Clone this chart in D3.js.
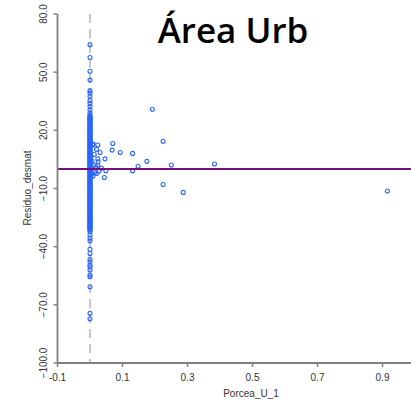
<!DOCTYPE html>
<html>
<head>
<meta charset="utf-8">
<script src="https://cdn.jsdelivr.net/npm/d3@7"></script>
<style>
  html, body { margin: 0; padding: 0; background: #fff; }
  svg { display: block; }
  .tick-lbl { font-family: Arial, "Liberation Sans", sans-serif; font-size: 10px; fill: #333; }
</style>
</head>
<body>
<div class="chart"></div>
<script>
// residuals of units with Porcea_U_1 = 0 (the dense column)
const colPorcea = 0;
const colResiduo = [64.2, 57.6, 50.5, 45.9, 40.5, 39.3, 37.5, 35.3, 33.9, 32.3, 30.4, 28.9,
  27.6, 26.9, 26.1, 25.3, 24.4, 23.7, 22.8, 22.1, 21.2, 20.5, 19.7, 19.0, 18.1, 17.4,
  16.6, 15.8, 15.1, 14.3, 13.5, 12.8, 12.0, 11.2, 10.5, 9.7, 9.0, 8.2, 7.4, 6.7, 5.9,
  5.2, 4.4, 3.6, 2.9, 2.1, 1.3, 0.6, -0.2, -0.9, -1.7, -2.5, -3.2, -4.0, -4.8, -5.5,
  -6.3, -7.0, -7.8, -8.6, -9.3, -10.1, -10.8, -11.6, -12.4, -13.1, -13.9, -14.7, -15.4,
  -16.2, -16.9, -17.7, -18.5, -19.2, -20.0, -20.8, -21.5, -22.3, -23.0, -23.8, -24.6,
  -25.3, -26.1, -26.8, -27.6, -28.4, -29.1, -29.9, -30.6, -31.4,
  -32.3, -34.0, -35.6, -37.0, -41.4, -43.5, -46.5, -47.8, -49.5, -50.4, -52.0, -54.6,
  -55.5, -60.7, -74.4, -77.2,
  // more residuals inside the packed band
  27.2, 26.5, 25.7, 24.8, 24.1, 23.3, 22.5, 21.6, 20.9, 20.1, 19.3, 18.6, 17.8, 17.0,
  16.2, 15.5, 14.7, 13.9, 13.2, 12.4, 11.6, 10.9, 10.1, 9.4, 8.6, 7.8, 7.1, 6.3, 5.6,
  4.8, 4.0, 3.3, 2.5, 1.7, 1.0, 0.2, -0.5, -1.3, -2.1, -2.8, -3.6, -4.4, -5.1, -5.9,
  -6.7, -7.4, -8.2, -8.9, -9.7, -10.5, -11.2, -12.0, -12.7, -13.5, -14.3, -15.0, -15.8,
  -16.6, -17.3, -18.1, -18.9, -19.6, -20.4, -21.1, -21.9, -22.7, -23.4, -24.2, -25.0,
  -25.7, -26.5, -27.2, -28.0, -28.8, -29.5, -30.3, -31.0];

// units with Porcea_U_1 > 0
const scatPorcea = [0.008, 0.024, 0.020, 0.031, 0.010, 0.003, 0.006, 0.012, 0.018, 0.024,
  0.015, 0.020, 0.028, 0.035, 0.009, 0.005, 0.046, 0.024, 0.049, 0.044, 0.070, 0.068,
  0.093, 0.131, 0.131, 0.148, 0.175, 0.192, 0.225, 0.250, 0.383, 0.225, 0.287, 0.915,
  0.025, 0.013];
const scatResiduo = [12.4, 12.4, 10.2, 8.6, 12.9, 6.5, 4.2, 2.0, 1.2, 2.0,
  -1.5, -2.2, -1.0, 0.5, -3.5, -2.5, 5.3, 5.3, -0.9, -4.3, 13.2, 9.8,
  8.6, 8.1, -0.9, 1.5, 4.0, 30.9, 14.4, 2.1, 2.6, -7.9, -12.0, -11.3,
  3.8, 7.5];

const xTicks = [-0.1, 0.1, 0.3, 0.5, 0.7, 0.9];
const yTicks = [80, 50, 20, -10, -40, -70, -100];
const refY = 0;   // horizontal reference line
const refX = 0;   // dashed vertical line

const W = 411, H = 403;
const svg = d3.select('div.chart').append('svg')
  .attr('width', W)
  .attr('height', H);

const x = d3.scaleLinear().domain([-0.1, 1.0]).range([57.5, 415]);
const y = d3.scaleLinear().domain([-100, 80]).range([363, 14]);

// title
svg.append('text')
  .attr('x', 233).attr('y', 43)
  .attr('text-anchor', 'middle')
  .style('font-family', '"Open Sans", sans-serif')
  .style('font-weight', 600)
  .style('font-size', '35px')
  .attr('fill', '#000')
  .text('Área Urb');

// dashed line at x = 0
svg.append('line')
  .attr('x1', x(refX)).attr('x2', x(refX))
  .attr('y1', y(80)).attr('y2', y(-100))
  .attr('stroke', '#b4b4b4')
  .attr('stroke-width', 1.5)
  .attr('stroke-dasharray', '9,6');

// points
const pts = colResiduo.map(r => [colPorcea, r])
  .concat(scatPorcea.map((p, i) => [p, scatResiduo[i]]));

svg.append('g').selectAll('circle')
  .data(pts)
  .enter()
  .append('circle')
  .attr('cx', d => x(d[0]))
  .attr('cy', d => y(d[1]))
  .attr('r', 2)
  .attr('fill', 'none')
  .attr('stroke', '#2a66ff')
  .attr('stroke-width', 1.1);

// horizontal line at 0
svg.append('line')
  .attr('x1', x(-0.1)).attr('x2', W)
  .attr('y1', y(refY)).attr('y2', y(refY))
  .attr('stroke', '#7a0a80')
  .attr('stroke-width', 2);

// y axis
const yAxis = svg.append('g');
yAxis.append('line')
  .attr('x1', x(-0.1)).attr('x2', x(-0.1))
  .attr('y1', y(80)).attr('y2', y(-100))
  .attr('stroke', '#808080').attr('stroke-width', 1.8);
yTicks.forEach(t => {
  yAxis.append('line')
    .attr('x1', x(-0.1) - 4).attr('x2', x(-0.1))
    .attr('y1', y(t)).attr('y2', y(t))
    .attr('stroke', '#808080').attr('stroke-width', 1.5);
  yAxis.append('text')
    .attr('class', 'tick-lbl')
    .attr('transform', `translate(47,${y(t)}) rotate(-90)`)
    .attr('text-anchor', 'middle')
    .text(d3.format('.1f')(t));
});

// x axis
const xAxis = svg.append('g');
xAxis.append('line')
  .attr('x1', x(-0.1)).attr('x2', W)
  .attr('y1', y(-100)).attr('y2', y(-100))
  .attr('stroke', '#808080').attr('stroke-width', 1.8);
xTicks.forEach(t => {
  xAxis.append('line')
    .attr('x1', x(t)).attr('x2', x(t))
    .attr('y1', y(-100)).attr('y2', y(-100) + 4)
    .attr('stroke', '#808080').attr('stroke-width', 1.5);
  xAxis.append('text')
    .attr('class', 'tick-lbl')
    .attr('x', x(t)).attr('y', 381)
    .attr('text-anchor', 'middle')
    .text(t);
});

// axis titles
svg.append('text')
  .attr('class', 'tick-lbl')
  .attr('x', 251).attr('y', 397)
  .attr('text-anchor', 'middle')
  .text('Porcea_U_1');
svg.append('text')
  .attr('class', 'tick-lbl')
  .attr('transform', 'translate(31,188) rotate(-90)')
  .attr('text-anchor', 'middle')
  .text('Residuo_desmat');
</script>
</body>
</html>
